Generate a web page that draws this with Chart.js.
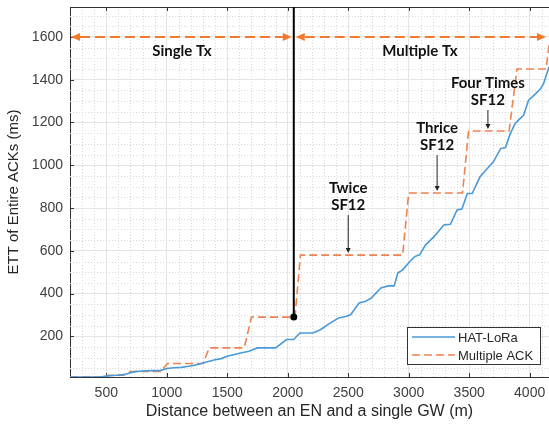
<!DOCTYPE html>
<html lang="en">
<head>
<meta charset="UTF-8">
<title>ETT of Entire ACKs</title>
<script src="https://cdn.jsdelivr.net/npm/chart.js"></script>
<style>
  html, body { margin: 0; padding: 0; background: #fff; }
</style>
</head>
<body>
<canvas id="grafico" width="549" height="425"></canvas>
<script>
// HAT-LoRa: distance (m) / ETT (ms)
const hatDist = [200, 450, 500, 560, 650, 700, 740, 800, 880, 950, 1000, 1060, 1120, 1180, 1240, 1300,
  1360, 1400, 1450, 1500, 1560, 1620, 1680, 1750, 1900, 1990, 2050, 2100, 2210, 2270, 2350, 2420,
  2480, 2520, 2590, 2640, 2690, 2770, 2830, 2880, 2910, 2950, 3010, 3050, 3090, 3140, 3210, 3290,
  3345, 3400, 3440, 3485, 3525, 3590, 3650, 3700, 3760, 3800, 3840, 3880, 3920, 3950, 3990, 4050,
  4090, 4115, 4160];
const hatEtt = [10, 10, 14, 17, 21, 30, 35, 38, 40, 41, 50, 53, 55, 60, 66, 75,
  85, 91, 96, 107, 115, 123, 130, 146, 146, 185, 185, 216, 216, 231, 262, 286,
  293, 301, 356, 363, 379, 426, 436, 436, 496, 511, 550, 573, 581, 628, 666, 721,
  724, 791, 795, 868, 868, 946, 985, 1016, 1078, 1083, 1148, 1195, 1218, 1234, 1303, 1335,
  1358, 1381, 1459];

// Multiple ACK (step levels)
const ackDist = [200, 460, 500, 640, 700, 950, 1005, 1300, 1350, 1640, 1700, 2060, 2105, 2950, 3000,
  3445, 3495, 3830, 3895, 4135, 4165];
const ackEtt = [10, 10, 18, 18, 36, 36, 73, 73, 146, 146, 290, 290, 580, 580, 870,
  870, 1160, 1160, 1450, 1450, 1580];

const xTicks = [500, 1000, 1500, 2000, 2500, 3000, 3500, 4000];
const yTicks = [200, 400, 600, 800, 1000, 1200, 1400, 1600];

// annotations
const splitDist = 2050;   // single / multiple tx boundary
const splitEtt = 290;
const arrowEtt = 1600;
const notes = [
  { lines: ['Twice', 'SF12'], x: 2500, level: 580, len: 38 },
  { lines: ['Thrice', 'SF12'], x: 3235, level: 870, len: 36 },
  { lines: ['Four Times', 'SF12'], x: 3655, level: 1160, len: 19 }
];

const blue = '#4a9ad9';
const orange = '#ee8352';
const arrowOrange = '#f27a2c';
const axisFont = 'Liberation Sans';
const noteFont = 'Lato';

function pts(xs, ys) {
  return xs.map((v, i) => ({ x: v, y: ys[i] }));
}

const decor = {
  id: 'decor',
  beforeDatasetsDraw(chart) {
    const { ctx, chartArea: a, scales: { x, y } } = chart;
    ctx.save();
    // minor grid, dotted
    ctx.strokeStyle = '#d9d9d9';
    ctx.lineWidth = 1;
    ctx.setLineDash([1, 2]);
    for (let v = 300; v < x.max; v += 100) {
      if (v % 500 === 0) continue;
      const px = Math.round(x.getPixelForValue(v)) + 0.5;
      ctx.beginPath(); ctx.moveTo(px, a.top); ctx.lineTo(px, a.bottom); ctx.stroke();
    }
    for (let v = 50; v < y.max; v += 50) {
      if (v % 200 === 0) continue;
      const py = Math.round(y.getPixelForValue(v)) + 0.5;
      ctx.beginPath(); ctx.moveTo(a.left, py); ctx.lineTo(a.right, py); ctx.stroke();
    }
    ctx.setLineDash([]);
    // top border + inward tick marks
    ctx.strokeStyle = '#333';
    ctx.beginPath(); ctx.moveTo(a.left, a.top + 0.5); ctx.lineTo(a.right, a.top + 0.5); ctx.stroke();
    xTicks.forEach(v => {
      const px = Math.round(x.getPixelForValue(v)) + 0.5;
      ctx.beginPath();
      ctx.moveTo(px, a.bottom); ctx.lineTo(px, a.bottom - 4);
      ctx.moveTo(px, a.top); ctx.lineTo(px, a.top + 4);
      ctx.stroke();
    });
    yTicks.forEach(v => {
      const py = Math.round(y.getPixelForValue(v)) + 0.5;
      ctx.beginPath(); ctx.moveTo(a.left, py); ctx.lineTo(a.left + 4, py); ctx.stroke();
    });
    ctx.restore();
  },
  afterDatasetsDraw(chart) {
    const { ctx, chartArea: a, scales: { x, y } } = chart;
    ctx.save();

    // boundary line with dot
    const bx = x.getPixelForValue(splitDist);
    const by = y.getPixelForValue(splitEtt);
    ctx.strokeStyle = '#000';
    ctx.lineWidth = 2;
    ctx.beginPath(); ctx.moveTo(bx, a.top); ctx.lineTo(bx, by); ctx.stroke();
    ctx.fillStyle = '#000';
    ctx.beginPath(); ctx.arc(bx, by, 3.5, 0, Math.PI * 2); ctx.fill();

    // double arrows
    const ay = y.getPixelForValue(arrowEtt);
    function head(tip, dir) {
      ctx.beginPath();
      ctx.moveTo(tip, ay);
      ctx.lineTo(tip - dir * 9, ay - 4);
      ctx.lineTo(tip - dir * 9, ay + 4);
      ctx.closePath();
      ctx.fill();
    }
    function dbl(x1, x2) {
      ctx.strokeStyle = arrowOrange;
      ctx.fillStyle = arrowOrange;
      ctx.lineWidth = 2;
      ctx.setLineDash([10, 5]);
      ctx.beginPath(); ctx.moveTo(x1 + 9, ay); ctx.lineTo(x2 - 9, ay); ctx.stroke();
      ctx.setLineDash([]);
      head(x1, -1);
      head(x2, 1);
    }
    dbl(a.left + 1, bx - 2);
    dbl(bx + 2, a.right - 3);

    ctx.fillStyle = '#111';
    ctx.font = 'bold 15px ' + noteFont;
    ctx.textAlign = 'center';
    ctx.textBaseline = 'middle';
    ctx.fillText('Single Tx', (a.left + bx) / 2, ay + 14);
    ctx.fillText('Multiple Tx', (bx + a.right - 3) / 2, ay + 14);

    // step notes
    notes.forEach(n => {
      const nx = x.getPixelForValue(n.x);
      const tip = y.getPixelForValue(n.level) - 2;
      const top = tip - n.len;
      ctx.strokeStyle = '#222';
      ctx.fillStyle = '#222';
      ctx.lineWidth = 1;
      ctx.beginPath(); ctx.moveTo(nx, top); ctx.lineTo(nx, tip - 4); ctx.stroke();
      ctx.beginPath();
      ctx.moveTo(nx, tip); ctx.lineTo(nx - 2.5, tip - 5); ctx.lineTo(nx + 2.5, tip - 5);
      ctx.closePath(); ctx.fill();
      ctx.fillStyle = '#111';
      ctx.fillText(n.lines[1], nx, top - 10);
      ctx.fillText(n.lines[0], nx, top - 27);
    });

    // legend
    const lx = a.right - 142, ly = a.bottom - 50, lw = 133, lh = 37;
    ctx.fillStyle = '#fff';
    ctx.fillRect(lx, ly, lw, lh);
    ctx.strokeStyle = '#333';
    ctx.lineWidth = 1;
    ctx.strokeRect(lx + 0.5, ly + 0.5, lw, lh);
    chart.data.datasets.forEach((ds, i) => {
      const ry = ly + 10 + i * 18;
      ctx.strokeStyle = ds.borderColor;
      ctx.lineWidth = 1.6;
      ctx.setLineDash(ds.borderDash || []);
      ctx.beginPath(); ctx.moveTo(lx + 5, ry); ctx.lineTo(lx + 48, ry); ctx.stroke();
      ctx.setLineDash([]);
      ctx.fillStyle = '#262626';
      ctx.font = '13px ' + axisFont;
      ctx.textAlign = 'left';
      ctx.fillText(ds.label, lx + 51, ry + 1);
    });

    ctx.restore();
  }
};

new Chart(document.getElementById('grafico'), {
  type: 'line',
  data: {
    datasets: [
      {
        label: 'HAT-LoRa',
        data: pts(hatDist, hatEtt),
        borderColor: blue,
        borderWidth: 1.6,
        pointRadius: 0,
        tension: 0
      },
      {
        label: 'Multiple ACK',
        data: pts(ackDist, ackEtt),
        borderColor: orange,
        borderWidth: 1.6,
        borderDash: [8, 4],
        pointRadius: 0,
        tension: 0
      }
    ]
  },
  options: {
    responsive: false,
    animation: false,
    devicePixelRatio: 1,
    layout: { padding: { top: 7, right: 0, left: 0, bottom: 0 } },
    plugins: {
      legend: { display: false },
      tooltip: { enabled: false }
    },
    scales: {
      x: {
        type: 'linear',
        min: 200,
        max: 4160,
        afterBuildTicks: s => { s.ticks = xTicks.map(v => ({ value: v })); },
        afterFit: s => { s.height = 48; s.paddingLeft = 0; s.paddingRight = 0; },
        grid: { color: '#e4e4e4', drawTicks: false },
        border: { color: '#333', width: 1 },
        ticks: {
          font: { family: axisFont, size: 14 },
          color: '#404040',
          padding: 8,
          maxRotation: 0,
          autoSkip: false,
          callback: v => String(v)
        },
        title: {
          display: true,
          text: 'Distance between an EN and a single GW (m)',
          font: { family: axisFont, size: 16 },
          color: '#262626',
          padding: { top: 0, bottom: 4 }
        }
      },
      y: {
        min: 10,
        max: 1740,
        afterBuildTicks: s => { s.ticks = yTicks.map(v => ({ value: v })); },
        afterFit: s => { s.width = 70; s.paddingTop = 0; s.paddingBottom = 0; },
        grid: { color: '#e4e4e4', drawTicks: false },
        border: { color: '#333', width: 1 },
        ticks: {
          font: { family: axisFont, size: 14 },
          color: '#404040',
          padding: 7,
          callback: v => String(v)
        },
        title: {
          display: true,
          text: 'ETT of Entire ACKs (ms)',
          font: { family: axisFont, size: 15 },
          color: '#262626',
          padding: { top: 5, bottom: 0 }
        }
      }
    }
  },
  plugins: [decor]
});
</script>
</body>
</html>
